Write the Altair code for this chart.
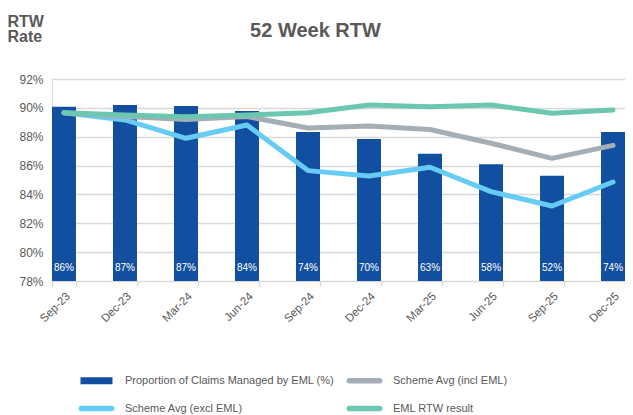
import altair as alt
import pandas as pd

periods = ["Sep-23", "Dec-23", "Mar-24", "Jun-24", "Sep-24", "Dec-24", "Mar-25", "Jun-25", "Sep-25", "Dec-25"]
proportion_managed = [86, 87, 87, 84, 74, 70, 63, 58, 52, 74]
bar_rtw = [90.08, 90.2, 90.13, 89.78, 88.33, 87.84, 86.82, 86.1, 85.3, 88.33]
scheme_incl = [89.66, 89.4, 89.2, 89.4, 88.6, 88.75, 88.5, 87.55, 86.5, 87.4]
scheme_excl = [89.66, 89.16, 87.89, 88.81, 85.65, 85.28, 85.88, 84.19, 83.2, 84.86]
eml_rtw = [89.66, 89.5, 89.39, 89.5, 89.66, 90.2, 90.08, 90.2, 89.62, 89.85]

series_names = ["Proportion of Claims Managed by EML (%)", "Scheme Avg (incl EML)",
                "Scheme Avg (excl EML)", "EML RTW result"]
series_colors = ["#124FA0", "#A5AEB5", "#66CCF5", "#6CC7B0"]
y_ticks = [78, 80, 82, 84, 86, 88, 90, 92]

FONT = "Liberation Sans"
GREY = "#595959"

bars_df = pd.DataFrame({
    "period": periods,
    "rtw": bar_rtw,
    "label": [f"{v}%" for v in proportion_managed],
})

rows = []
for name, vals in [(series_names[2], scheme_excl), (series_names[1], scheme_incl), (series_names[3], eml_rtw)]:
    for p, v in zip(periods, vals):
        rows.append({"period": p, "series": name, "value": v})
lines_df = pd.DataFrame(rows)
legend_df = pd.DataFrame({"series": series_names})

# legend swatches (unit = 5px with symbolSize 100)
bar_path = "M-3.2,-0.7H3.2V0.7H-3.2Z"
line_path = "M-3.05,-0.55H3.05A0.55,0.55 0 0 1 3.05,0.55H-3.05A0.55,0.55 0 0 1 -3.05,-0.55Z"
shape_range = [bar_path, line_path, line_path, line_path]

x_axis = alt.Axis(title=None, labelAngle=-45, labelFontSize=11.5, labelColor=GREY, labelFont=FONT,
                  domain=False, ticks=True, tickBand="extent", tickColor="#D9D9D9", tickSize=5,
                  tickWidth=1.5, labelPadding=4, grid=False)
x_scale = alt.Scale(paddingInner=0.607, paddingOuter=0)
y_scale = alt.Scale(domain=[78, 92], nice=False, zero=False)
y_axis = alt.Axis(values=y_ticks, labelExpr="datum.value + '%'", grid=True, gridColor="#D9D9D9",
                  gridWidth=1.5, domain=False, ticks=False, labelPadding=9, labelFontSize=12,
                  labelColor=GREY, labelFont=FONT, labelOverlap=False,
                  title=["RTW", "Rate"], titleAngle=0, titleAlign="left", titleBaseline="top",
                  titleX=-45, titleY=-66, titleFontSize=16, titleFontWeight="bold", titleColor=GREY,
                  titleFont=FONT, titleLineHeight=15.5)


def xenc():
    return alt.X("period:N", sort=periods, scale=x_scale, axis=x_axis)


def yenc(field):
    return alt.Y(field, scale=y_scale, axis=y_axis)


bars = alt.Chart(bars_df).mark_bar(color=series_colors[0]).encode(
    x=xenc(),
    y=yenc("rtw:Q"),
    y2=alt.Y2Datum(78),
)

labels = alt.Chart(bars_df).mark_text(color="white", fontSize=10, font=FONT, dy=-13).encode(
    x=xenc(),
    y=alt.YDatum(78, scale=y_scale, axis=y_axis),
    text="label:N",
)

line_layers = []
for name, col in [(series_names[2], series_colors[2]), (series_names[1], series_colors[1]),
                  (series_names[3], series_colors[3])]:
    line_layers.append(
        alt.Chart(lines_df).transform_filter(alt.datum.series == name)
        .mark_line(color=col, strokeWidth=5, strokeCap="round", strokeJoin="round")
        .encode(x=xenc(), y=yenc("value:Q"))
    )

leg = alt.Legend(title=None, orient="none", legendX=39, legendY=296, columns=2, direction="horizontal",
                 symbolSize=100, labelOffset=23, labelFontSize=11, labelColor=GREY, labelFont=FONT,
                 rowPadding=16, columnPadding=11, padding=0, labelLimit=400, symbolStrokeWidth=0)

legend_layer = alt.Chart(legend_df).mark_point(filled=True, clip=True, opacity=1).encode(
    y=alt.YDatum(60, scale=y_scale, axis=y_axis),
    color=alt.Color("series:N", scale=alt.Scale(domain=series_names, range=series_colors), legend=leg),
    shape=alt.Shape("series:N", scale=alt.Scale(domain=series_names, range=shape_range), legend=leg),
)

chart = alt.layer(bars, labels, *line_layers, legend_layer).properties(
    width=573, height=202,
    autosize=alt.AutoSizeParams(type="none"),
    padding={"left": 44, "top": 71, "right": 0, "bottom": 137},
    title=alt.TitleParams("52 Week RTW", anchor="middle", frame="group", fontSize=20, fontWeight="bold",
                          color=GREY, font=FONT, dx=-23, dy=32),
).configure_view(stroke=None).configure(background="white")

chart.save("out.html", embed_options={"renderer": "svg", "actions": False})
